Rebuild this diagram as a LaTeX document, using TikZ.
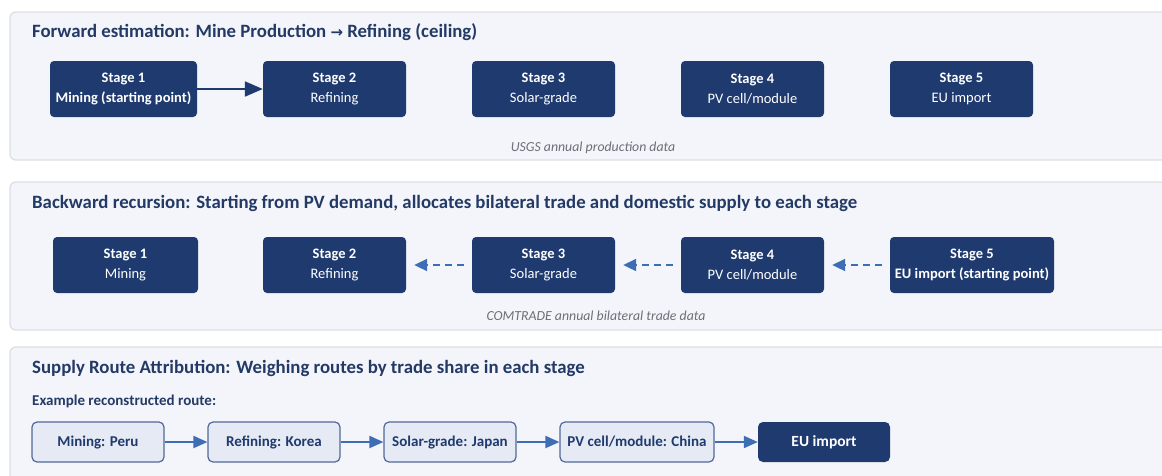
\documentclass[tikz,border=0pt]{standalone}
\usepackage{fontspec}
\setmainfont{Carlito}
\newfontfamily\symfont{DejaVu Sans}
\usetikzlibrary{arrows.meta}
\definecolor{navy}{HTML}{1F3A6E}
\definecolor{panelfill}{HTML}{F3F5FA}
\definecolor{panelline}{HTML}{DCDFE5}
\definecolor{titlecol}{HTML}{243A66}
\definecolor{capcol}{HTML}{6B6F78}
\definecolor{routefill}{HTML}{E5EAF4}
\definecolor{routeline}{HTML}{52689A}
\definecolor{arrowblue}{HTML}{3D6DB5}
\tikzset{
  panel/.style={fill=panelfill, draw=panelline, line width=1.3pt, rounded corners=6pt},
  ptitle/.style={anchor=west, inner sep=0pt, text=titlecol, font=\fontsize{18.8}{22}\selectfont\bfseries},
  stagebox/.style={fill=navy, rounded corners=4pt, text=white, minimum height=56pt, inner sep=0pt, align=center, font=\fontsize{14.5}{20}\selectfont},
  caption/.style={inner sep=0pt, text=capcol, font=\fontsize{13.8}{16}\selectfont\itshape},
  routebox/.style={fill=routefill, draw=routeline, line width=1.2pt, rounded corners=5pt, minimum height=40pt, inner sep=0pt, text=navy, font=\fontsize{15}{17}\selectfont\bfseries},
  routedark/.style={fill=navy, rounded corners=5pt, minimum height=40pt, inner sep=0pt, text=white, font=\fontsize{15.5}{17}\selectfont\bfseries},
  fwdarrow/.style={draw=navy, line width=2pt, -{Triangle[length=18pt,width=15pt]}},
  bwdarrow/.style={draw=arrowblue, line width=2pt, dash pattern=on 7pt off 5pt, shorten >=8pt, shorten <=8pt, -{Triangle[length=13pt,width=12pt]}},
  routearrow/.style={draw=arrowblue, line width=2pt, -{Triangle[length=14pt,width=12pt]}},
}
\begin{document}
\begin{tikzpicture}[x=1pt,y=-1pt]
\useasboundingbox (0,0) rectangle (1162,475);
\clip (0,0) rectangle (1162,475);
\fill[white] (0,0) rectangle (1162,475);

% panels
\path[panel] (10,12) rectangle (1180,160);
\path[panel] (10,182) rectangle (1180,330);
\path[panel] (10,347) rectangle (1180,495);

% panel 1
\node[ptitle] (t1) at (32,32) {Forward estimation: Mine Production {\symfont\fontsize{15}{17}\selectfont →} Refining (ceiling)};
\node[stagebox, minimum width=147pt] (f1) at (123.5,89) {\textbf{Stage 1}\\\textbf{Mining (starting point)}};
\node[stagebox, minimum width=143pt] (f2) at (334.5,89) {\textbf{Stage 2}\\Refining};
\node[stagebox, minimum width=143pt] (f3) at (543.5,89) {\textbf{Stage 3}\\Solar-grade};
\node[stagebox, minimum width=143pt] (f4) at (752.5,89) {\textbf{Stage 4}\\PV cell/module};
\node[stagebox, minimum width=143pt] (f5) at (961.5,89) {\textbf{Stage 5}\\EU import};
\draw[fwdarrow] (f1.east) -- (f2.west);
\node[caption] (c1) at (593,148) {USGS annual production data};

% panel 2
\node[ptitle] (t2) at (32,203) {Backward recursion: Starting from PV demand, allocates bilateral trade and domestic supply to each stage};
\node[stagebox, minimum width=145pt] (b1) at (125.5,265) {\textbf{Stage 1}\\Mining};
\node[stagebox, minimum width=143pt] (b2) at (334.5,265) {\textbf{Stage 2}\\Refining};
\node[stagebox, minimum width=143pt] (b3) at (543.5,265) {\textbf{Stage 3}\\Solar-grade};
\node[stagebox, minimum width=143pt] (b4) at (752.5,265) {\textbf{Stage 4}\\PV cell/module};
\node[stagebox, minimum width=164pt] (b5) at (972,265) {\textbf{Stage 5}\\\textbf{EU import (starting point)}};
\draw[bwdarrow] (b5.west) -- (b4.east);
\draw[bwdarrow] (b4.west) -- (b3.east);
\draw[bwdarrow] (b3.west) -- (b2.east);
\node[caption] (c2) at (596,316) {COMTRADE annual bilateral trade data};

% panel 3
\node[ptitle] (t3) at (32,368) {Supply Route Attribution: Weighing routes by trade share in each stage};
\node[anchor=west, inner sep=0pt, text=titlecol, font=\fontsize{15}{17}\selectfont\bfseries] (ex) at (32,401) {Example reconstructed route:};
\node[routebox, minimum width=132pt] (r1) at (98,442) {Mining: Peru};
\node[routebox, minimum width=132pt] (r2) at (274,442) {Refining: Korea};
\node[routebox, minimum width=132pt] (r3) at (450,442) {Solar-grade: Japan};
\node[routebox, minimum width=154pt] (r4) at (637,442) {PV cell/module: China};
\node[routedark, minimum width=132pt] (r5) at (824,442) {EU import};
\draw[routearrow] (r1.east) -- (r2.west);
\draw[routearrow] (r2.east) -- (r3.west);
\draw[routearrow] (r3.east) -- (r4.west);
\draw[routearrow] (r4.east) -- (r5.west);
\end{tikzpicture}
\end{document}
